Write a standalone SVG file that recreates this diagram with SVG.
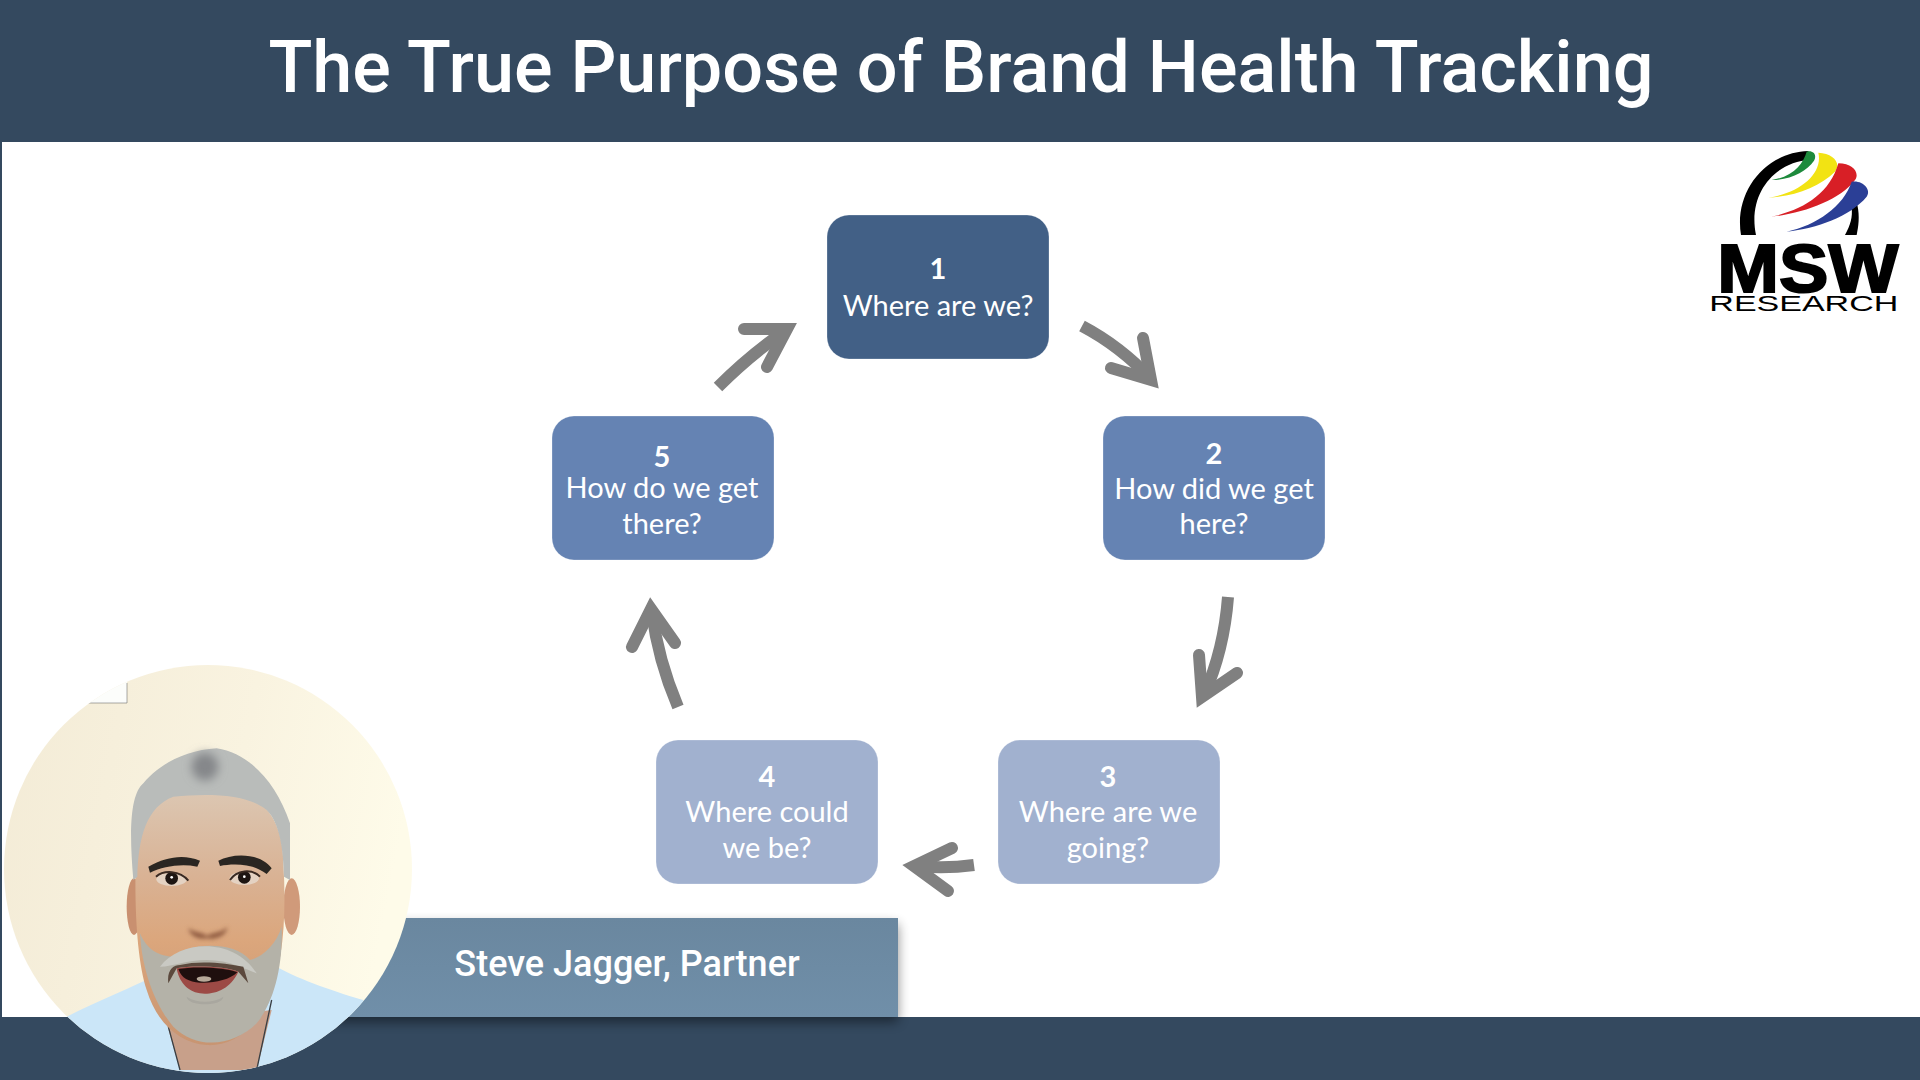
<svg xmlns="http://www.w3.org/2000/svg" width="1920" height="1080" viewBox="0 0 1920 1080">
<style>
.bar{fill:#34495f}
.box{stroke:#fff;stroke-opacity:.25;stroke-width:1}
.n{font:700 29px Lato,"Open Sans",sans-serif;fill:#fff;text-anchor:middle}
.t{font:400 29px Lato,"Open Sans",sans-serif;fill:#fff;text-anchor:middle}
.shaft{fill:none;stroke:#808080;stroke-width:12}
.head{fill:none;stroke:#808080;stroke-width:12;stroke-linecap:round;stroke-linejoin:miter;stroke-miterlimit:10}
</style>
<defs>
<clipPath id="circ"><circle cx="208" cy="869" r="204"/></clipPath>
<linearGradient id="bg" x1="0" y1="0" x2="1" y2=".2"><stop offset="0" stop-color="#f3ebd6"/><stop offset=".6" stop-color="#f9f3e0"/><stop offset="1" stop-color="#fefbe9"/></linearGradient>
<linearGradient id="skin" x1="0" y1="0" x2="0" y2="1"><stop offset="0" stop-color="#dcc8b4"/><stop offset=".35" stop-color="#d9b294"/><stop offset=".6" stop-color="#dba67c"/><stop offset="1" stop-color="#c89572"/></linearGradient>
<linearGradient id="nameg" x1="0" y1="0" x2="0" y2="1"><stop offset="0" stop-color="#6a879f"/><stop offset="1" stop-color="#708fa9"/></linearGradient>
<filter id="b2" x="-30%" y="-30%" width="160%" height="160%"><feGaussianBlur stdDeviation="2"/></filter>
<filter id="b6" x="-30%" y="-30%" width="160%" height="160%"><feGaussianBlur stdDeviation="6"/></filter>
<filter id="b14" x="-50%" y="-50%" width="200%" height="200%"><feGaussianBlur stdDeviation="14"/></filter>
<filter id="sh" x="-10%" y="-30%" width="120%" height="170%"><feGaussianBlur stdDeviation="6"/></filter>
</defs>
<rect width="1920" height="1080" fill="#fff"/>
<rect class="bar" width="1920" height="142"/>
<rect class="bar" y="0" width="2" height="1080"/>
<rect class="bar" y="1017" width="1920" height="63"/>
<text x="961" y="92" text-anchor="middle" font-family="Roboto,sans-serif" font-weight="500" font-size="72" fill="#fff">The True Purpose of Brand Health Tracking</text>

<g id="connectors">
<g id="arrow-1-2"><path class="shaft" d="M1082,326 Q1120,346 1151,379"/><path class="head" d="M1143,338 L1151,380 L1111,368"/></g>
<g id="arrow-2-3"><path class="shaft" d="M1228,597 Q1224,650 1204,695"/><path class="head" d="M1199,655 L1202,697 L1237,673"/></g>
<g id="arrow-3-4"><path class="shaft" d="M974,865 Q945,869 916,866"/><path class="head" d="M952,848 L914,866 L948,891"/></g>
<g id="arrow-4-5"><path class="shaft" d="M678,707 Q658,660 652,612"/><path class="head" d="M632,647 L651,609 L675,643"/></g>
<g id="arrow-5-1"><path class="shaft" d="M718,387 Q750,355 785,331"/><path class="head" d="M744,329 L787,329 L767,367"/></g>
</g>

<g id="node-1"><rect class="box" x="827" y="215" width="222" height="144" rx="22" fill="#426086"/><text class="n" x="938" y="279">1</text><text class="t" x="938" y="316">Where are we?</text></g>
<g id="node-2"><rect class="box" x="1103" y="416" width="222" height="144" rx="22" fill="#6583b3"/><text class="n" x="1214" y="464">2</text><text class="t" x="1214" y="499">How did we get</text><text class="t" x="1214" y="534">here?</text></g>
<g id="node-3"><rect class="box" x="998" y="740" width="222" height="144" rx="22" fill="#a1b1cf"/><text class="n" x="1108" y="787">3</text><text class="t" x="1108" y="822">Where are we</text><text class="t" x="1108" y="858">going?</text></g>
<g id="node-4"><rect class="box" x="656" y="740" width="222" height="144" rx="22" fill="#a1b1cf"/><text class="n" x="767" y="787">4</text><text class="t" x="767" y="822">Where could</text><text class="t" x="767" y="858">we be?</text></g>
<g id="node-5"><rect class="box" x="552" y="416" width="222" height="144" rx="22" fill="#6583b3"/><text class="n" x="662" y="467">5</text><text class="t" x="662" y="498">How do we get</text><text class="t" x="662" y="534">there?</text></g>

<g id="logo" transform="translate(1660,130) scale(.33333)">
<path d="M243,315 C222,190 310,68 445,63 L450,90 C345,95 262,190 288,315Z" fill="#000"/>
<path d="M555,315 C572,285 578,260 575,235 L592,225 C600,260 595,290 590,315Z" fill="#000"/>
<path d="M335,150 C400,140 430,100 440,65 C460,60 472,75 462,92 C440,125 390,150 335,150Z" fill="#1d8a3c"/>
<path d="M325,203 C420,190 490,130 475,68 C520,70 545,100 525,125 C480,170 400,200 325,203Z" fill="#f2e313"/>
<path d="M335,260 C430,240 510,190 535,100 C580,100 600,130 585,150 C540,210 430,250 335,260Z" fill="#d81f26"/>
<path d="M380,305 C470,285 550,230 575,155 C610,150 635,180 620,200 C570,260 470,295 380,305Z" fill="#2b3f96"/>
<text x="172" y="485" font-family="Liberation Sans,Arial,sans-serif" font-weight="700" font-size="205" textLength="543" lengthAdjust="spacingAndGlyphs" stroke="#000" stroke-width="6" fill="#000">MSW</text>
<text x="148" y="542" font-family="Liberation Sans,Arial,sans-serif" font-size="66" textLength="567" lengthAdjust="spacingAndGlyphs" fill="#000">RESEARCH</text>
</g>

<g id="name-bar">
<rect x="330" y="924" width="568" height="98" fill="#000" opacity=".45" filter="url(#sh)"/>
<rect x="330" y="918" width="568" height="99" fill="url(#nameg)"/>
<text x="627" y="976" text-anchor="middle" font-family="Roboto,sans-serif" font-weight="500" font-size="36" fill="#fff">Steve Jagger, Partner</text>
</g>

<g id="presenter" clip-path="url(#circ)">
<rect x="0" y="660" width="420" height="420" fill="url(#bg)"/>
<g transform="translate(0,650) scale(.33333)">
<path d="M200,1100 C300,1050 400,1010 470,975 L830,950 C900,990 1020,1030 1090,1050 L1100,1290 L200,1290Z" fill="#cbe6f8"/>
<path d="M500,1120 L540,1260 L770,1260 L815,1080Z" fill="#c8a08a"/>
<path d="M505,1130 L540,1260 M815,1050 L770,1260" stroke="#3a3f44" stroke-width="4" fill="none"/>
<ellipse cx="402" cy="770" rx="22" ry="85" fill="#c9906f" filter="url(#b2)"/>
<ellipse cx="875" cy="770" rx="25" ry="85" fill="#d09a7a" filter="url(#b2)"/>
<path d="M410,560 C410,440 560,400 650,410 C780,420 850,500 850,640 C860,800 850,950 800,1060 C760,1150 680,1190 620,1185 C540,1180 470,1120 440,1020 C410,930 400,750 410,560Z" fill="url(#skin)"/>
<path d="M400,690 C385,520 395,430 430,400 C480,340 560,300 650,295 C750,310 830,400 870,520 L870,690 L852,680 C850,600 840,520 800,480 C740,430 620,430 520,440 C440,470 415,560 412,680Z" fill="#b9bcba" filter="url(#b2)"/>
<ellipse cx="615" cy="350" rx="40" ry="42" fill="#85878a" filter="url(#b14)"/>
<path d="M420,850 C440,900 480,920 520,920 C560,880 700,870 750,930 C790,920 830,880 845,830 C850,950 820,1060 770,1120 C700,1190 590,1200 520,1130 C460,1060 425,950 420,850Z" fill="#b4b2a8" filter="url(#b2)"/>
<path d="M480,950 C540,870 700,860 770,970 C740,960 690,930 620,930 C560,930 520,950 480,950Z" fill="#c9c9c3" filter="url(#b2)"/>
<path d="M505,1000 C500,960 520,945 540,945 C600,930 680,940 730,950 L745,1000 L715,965 C680,950 580,945 530,955Z" fill="#5b4a3e" filter="url(#b2)"/>
<path d="M530,955 C580,945 680,950 715,965 C690,1020 640,1035 600,1030 C560,1025 535,990 530,955Z" fill="#9c4a45"/>
<path d="M535,957 C580,948 680,952 712,967 C690,990 640,1000 600,998 C565,995 545,985 535,957Z" fill="#1f0f0e"/>
<ellipse cx="612" cy="987" rx="22" ry="8" fill="#b8a999"/>
<path d="M560,1040 C590,1060 640,1060 670,1040 C670,1070 560,1070 560,1040Z" fill="#a9a79f" filter="url(#b2)"/>
<path d="M565,835 C585,850 605,845 620,858 C640,845 665,850 682,830 C680,860 640,870 620,865 C600,870 570,860 565,835Z" fill="#8e5a40" filter="url(#b6)"/>
<path d="M445,650 C500,620 550,612 600,632 L592,650 C540,640 490,650 450,668Z" fill="#2c2620" filter="url(#b2)"/>
<path d="M655,632 C700,608 780,608 815,655 L800,672 C760,640 700,640 660,648Z" fill="#2c2620" filter="url(#b2)"/>
<ellipse cx="515" cy="688" rx="46" ry="20" fill="#e4d2c2"/>
<ellipse cx="733" cy="685" rx="44" ry="20" fill="#e4d2c2"/>
<circle cx="515" cy="685" r="19" fill="#1d1512"/>
<circle cx="733" cy="682" r="19" fill="#1d1512"/>
<circle cx="515" cy="682" r="4" fill="#fff"/>
<circle cx="733" cy="680" r="4" fill="#fff"/>
<path d="M468,680 C490,660 540,660 565,692 M690,690 C710,660 755,655 780,680" fill="none" stroke="#3a2a22" stroke-width="6"/>
</g>
<rect x="88" y="682" width="39" height="21" fill="#fcfdfb"/>
<path d="M127,683 V703 H88" fill="none" stroke="#555" stroke-width=".5"/>
</g>
</svg>
